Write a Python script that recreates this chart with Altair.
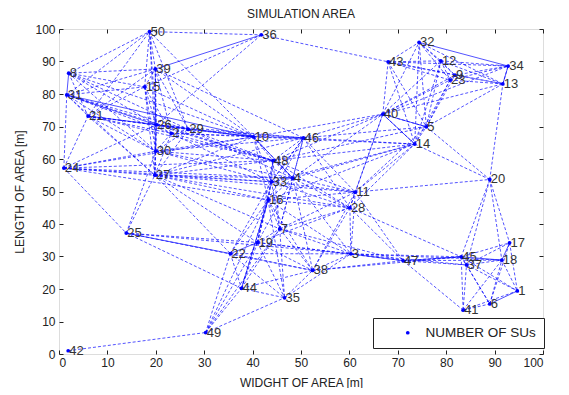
import altair as alt
import pandas as pd

node_ids = list(range(1, 51))
node_x = [94.7, 23.2, 60.3, 48.3, 75.9, 89.0, 45.6, 2.0, 81.8, 40.2,
          61.2, 78.9, 91.7, 73.5, 17.7, 43.2, 93.1, 91.5, 41.0, 89.0,
          6.0, 35.4, 80.8, 1.0, 13.9, 20.1, 19.8, 60.1, 26.7, 20.0,
          1.6, 74.4, 43.9, 92.8, 46.6, 41.8, 84.2, 52.4, 19.9, 66.9,
          83.5, 1.9, 68.0, 37.7, 83.1, 50.5, 71.1, 44.2, 30.3, 18.7]
node_y = [19.4, 67.9, 30.8, 54.1, 69.9, 15.4, 38.5, 86.4, 85.8, 66.8,
          49.8, 90.2, 83.1, 64.6, 82.2, 47.4, 34.2, 28.9, 34.3, 53.7,
          73.2, 30.9, 84.3, 57.2, 37.2, 70.5, 55.0, 45.0, 69.1, 62.4,
          79.7, 95.9, 53.0, 88.6, 17.3, 98.2, 27.4, 25.7, 87.7, 73.8,
          13.5, 1.0, 89.9, 20.2, 29.9, 66.5, 28.7, 59.5, 6.6, 99.2]

dashed_edges = [
    (50, 36), (50, 39), (50, 8), (50, 15), (50, 31), (50, 26), (50, 21), (50, 29), (50, 10), (50, 30),
    (36, 43), (36, 26), (36, 15),
    (39, 8), (39, 15), (39, 31), (39, 21), (39, 26), (39, 2), (39, 29), (39, 10), (39, 30), (39, 27), (39, 46),
    (8, 15), (8, 21), (8, 26), (8, 29), (8, 10), (8, 30),
    (15, 31), (15, 21), (15, 26), (15, 2), (15, 30), (15, 10), (15, 27),
    (31, 21), (31, 2), (31, 29), (31, 30), (31, 24), (31, 27), (31, 48),
    (21, 26), (21, 2), (21, 30), (21, 24), (21, 27), (21, 29), (21, 48),
    (26, 2), (26, 29), (26, 10), (26, 30), (26, 27), (26, 48), (26, 46),
    (2, 29), (2, 10), (2, 30), (2, 27), (2, 48), (2, 33), (2, 46),
    (29, 10), (29, 30), (29, 27), (29, 48), (29, 46), (29, 4),
    (10, 48), (10, 46), (10, 33), (10, 4), (10, 16), (10, 30), (10, 27), (10, 40), (10, 14),
    (30, 27), (30, 24), (30, 48), (30, 33), (30, 4), (30, 46),
    (24, 27), (24, 25), (24, 48), (24, 33), (24, 26), (24, 10), (24, 4), (24, 16),
    (27, 48), (27, 33), (27, 4), (27, 16), (27, 25), (27, 22), (27, 19), (27, 7), (27, 11), (27, 28), (27, 46),
    (25, 19), (25, 44), (25, 30), (25, 3), (25, 38),
    (48, 33), (48, 4), (48, 16), (48, 46), (48, 7), (48, 19), (48, 11), (48, 28), (48, 14), (48, 5),
    (33, 4), (33, 16), (33, 7), (33, 19), (33, 22), (33, 11), (33, 28), (33, 46),
    (4, 16), (4, 46), (4, 7), (4, 19), (4, 11), (4, 28), (4, 38), (4, 40), (4, 14), (4, 3),
    (16, 7), (16, 19), (16, 22), (16, 44), (16, 35), (16, 28), (16, 3), (16, 38), (16, 11),
    (46, 40), (46, 14), (46, 5), (46, 11), (46, 28), (46, 7), (46, 33), (46, 16),
    (7, 19), (7, 44), (7, 35), (7, 38), (7, 3), (7, 28), (7, 11), (7, 47),
    (19, 44), (19, 35), (19, 38), (19, 49), (19, 3), (19, 28), (19, 47),
    (22, 44), (22, 35), (22, 49), (22, 38), (22, 3),
    (44, 35), (44, 49), (44, 38),
    (35, 49), (35, 38), (35, 3),
    (38, 3), (38, 47), (38, 28), (38, 11), (38, 45),
    (3, 28), (3, 11), (3, 45), (3, 37), (3, 18),
    (11, 28), (11, 20), (11, 14), (11, 40), (11, 47), (11, 5),
    (28, 47), (28, 45), (28, 14), (28, 40),
    (42, 49), (49, 7), (49, 16),
    (40, 5), (40, 14), (40, 43), (40, 32), (40, 12), (40, 9), (40, 23), (40, 13), (40, 34), (40, 48),
    (5, 14), (5, 43), (5, 32), (5, 12), (5, 9), (5, 23), (5, 13), (5, 20),
    (14, 43), (14, 32), (14, 12), (14, 23), (14, 20), (14, 33), (14, 16),
    (43, 32), (43, 12), (43, 9), (43, 23), (43, 34), (43, 13),
    (32, 12), (32, 9), (32, 23), (32, 13),
    (12, 9), (12, 23), (12, 34), (12, 13),
    (9, 23), (9, 34), (9, 13),
    (23, 34), (23, 13),
    (34, 13), (13, 20),
    (20, 17), (20, 18), (20, 45), (20, 37),
    (45, 37), (45, 17), (45, 1), (45, 6), (45, 41), (45, 47),
    (37, 17), (37, 18), (37, 1), (37, 6), (37, 41), (37, 47),
    (17, 1), (17, 6),
    (18, 1), (18, 6), (18, 41),
    (1, 41), (6, 41), (47, 18), (47, 41),
]

solid_edges = [
    (31, 10), (21, 10), (31, 26), (8, 31), (36, 39), (19, 22), (3, 47),
    (45, 18), (17, 18), (1, 6), (32, 34), (25, 22), (10, 4), (47, 45),
    (44, 16), (40, 14), (5, 40), (13, 34),
]

series_name = "NUMBER OF SUs"

pos = {n: (x, y) for n, x, y in zip(node_ids, node_x, node_y)}


def edge_frame(edges):
    rows = []
    for i, (a, b) in enumerate(edges):
        for n in (a, b):
            rows.append({"edge": i, "x": pos[n][0], "y": pos[n][1]})
    return pd.DataFrame(rows)


nodes = pd.DataFrame({"id": node_ids, "x": node_x, "y": node_y,
                      "label": [str(n) for n in node_ids], "series": series_name})

xs = alt.Scale(domain=[0, 100], nice=False, zero=False)
ys = alt.Scale(domain=[0, 100], nice=False, zero=False)
vals = list(range(0, 101, 10))

tick_common = dict(grid=False, domain=False, tickSize=4, offset=-4, tickColor="#222",
                   labelColor="#222", labelFont="Liberation Sans", labelFontSize=12, values=vals)
title_common = dict(titleFont="Liberation Sans", titleFontSize=12, titleFontWeight="normal",
                    titleColor="#222")

x_bottom = alt.X("x:Q", scale=xs, axis=alt.Axis(title="WIDGHT OF AREA [m]", labelPadding=3,
                                               titlePadding=9, **tick_common, **title_common))
y_left = alt.Y("y:Q", scale=ys, axis=alt.Axis(title="LENGTH OF AREA [m]", labelPadding=4,
                                             titlePadding=8, **tick_common, **title_common))
x_plain = alt.X("x:Q", scale=xs, axis=None)
y_plain = alt.Y("y:Q", scale=ys, axis=None)

dashed = alt.Chart(edge_frame(dashed_edges)).mark_line(
    color="#0000ff", strokeWidth=0.85, strokeDash=[3, 2], opacity=0.8
).encode(x=x_bottom, y=y_left, detail="edge:N")

solid = alt.Chart(edge_frame(solid_edges)).mark_line(
    color="#0000ff", strokeWidth=0.85, opacity=0.8
).encode(x=x_plain, y=y_plain, detail="edge:N")

points = alt.Chart(nodes).mark_point(filled=True, size=14, shape="circle", opacity=1).encode(
    x=x_plain,
    y=y_plain,
    color=alt.Color("series:N", scale=alt.Scale(range=["#0000ff"]),
                    legend=alt.Legend(title=None, orient="none", legendX=314, legendY=289,
                                      strokeColor="#222", fillColor="white", padding=8,
                                      cornerRadius=0, symbolOffset=20, labelOffset=11,
                                      labelFontSize=13.5, labelFont="Liberation Sans",
                                      labelColor="#222", symbolSize=14, symbolType="circle",
                                      labelLimit=300)),
)

labels = alt.Chart(nodes).mark_text(
    align="left", baseline="middle", dx=1, fontSize=13, font="Liberation Sans", color="#333"
).encode(x=x_plain, y=y_plain, text="label:N")

frame_ticks = alt.Chart(nodes).mark_point(opacity=0).encode(
    x=alt.X("x:Q", scale=xs, axis=alt.Axis(orient="top", labels=False, title="", **tick_common)),
    y=alt.Y("y:Q", scale=ys, axis=alt.Axis(orient="right", labels=False, title="", **tick_common)),
)

chart = alt.layer(dashed, solid, points, labels, frame_ticks).resolve_axis(
    x="independent", y="independent"
).properties(
    width=484, height=325,
    title=alt.Title("SIMULATION AREA", font="Liberation Sans", fontSize=12,
                    fontWeight="normal", color="#222", offset=2),
    padding={"left": 5, "top": 0, "right": 5, "bottom": 0},
).configure_view(stroke="#222", strokeWidth=1).configure(background="white")

chart.save("out.html", embed_options={"renderer": "svg", "actions": False})
